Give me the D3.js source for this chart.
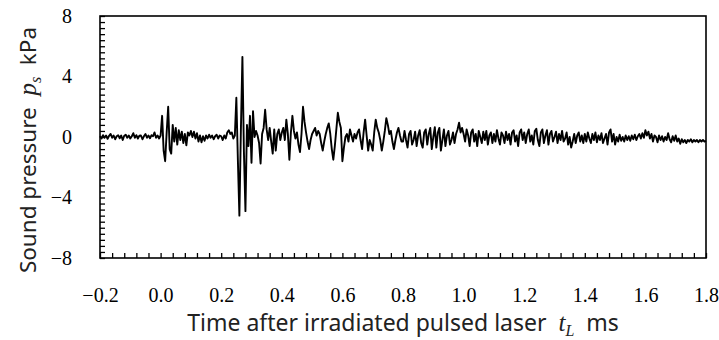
<!DOCTYPE html>
<html>
<head>
<meta charset="utf-8">
<script src="https://cdn.jsdelivr.net/npm/d3@7"></script>
<style>
  body { margin: 0; background: #fff; }
  svg { display: block; }
  .title { white-space: pre; }
</style>
</head>
<body>
<svg width="719" height="340"></svg>
<script>
// sampled signal, start time and step (ms)
const t0 = -0.2;
const dt = 0.005;

// sound pressure ps (kPa), 40 samples per 0.2 ms
const segA = [0.05, -0.1, 0.12, -0.05, 0.1, -0.12, 0.08, 0.2, -0.05, 0.1, -0.15, 0.05, 0.12, -0.08, 0.1, -0.2, 0.08, 0.15, -0.05, 0.1,
  -0.1, 0.05, 0.25, -0.05, 0.12, -0.1, 0.08, 0.1, -0.15, 0.05, 0.2, -0.05, 0.1, -0.08, 0.12, 0.05, 0.3, -0.05, 0.1, -0.1];
const segB = [0.1, 1.4, -0.9, -1.6, 0.3, 2.0, -0.8, -1.1, 0.8, -0.3, 0.6, -0.5, 0.45, -0.2, 0.35, -0.4, 0.2, -0.55, 0.3, 0.1,
  0.4, 0.0, 0.35, -0.1, 0.25, -0.3, 0.1, -0.35, 0.05, -0.25, 0.1, -0.1, 0.15, -0.05, 0.1, -0.15, 0.05, 0.15, -0.1, 0.1];
const segC = [0.05, -0.2, 0.1, -0.1, 0.3, 0.45, 0.2, 0.3, -0.1, 0.1, 2.6, -1.5, -5.2, 0.5, 5.3, -1.0, -4.9, 0.8, -0.6, 1.4,
  -1.7, 1.7, 0.0, 0.4, 0.1, -0.4, -1.75, 0.2, 0.6, 1.8, 0.5, -0.2, 0.6, -0.3, -1.1, 0.5, -0.9, 0.2, 0.5, -0.2];
const segD = [0.3, 0.6, -0.2, 1.15, 0.2, -1.5, 0.3, 1.4, 0.4, -0.1, 0.3, -0.5, -1.0, 0.2, 2.0, 1.0, 0.3, -0.3, -0.8, -0.2,
  0.2, 0.4, 0.6, 0.1, 0.4, 0.2, -0.4, -0.9, -0.3, 0.2, 0.6, 0.9, 0.2, -0.8, -1.5, -0.6, 0.5, 1.6, 1.0, 0.6];
const segE = [-1.6, -0.7, 0.0, 0.2, -0.3, 0.5, 0.1, -0.3, 0.2, -0.1, 0.3, 0.5, -0.2, -0.8, 0.3, 1.15, 0.1, -0.9, -0.2, -0.5,
  -0.9, 0.3, 1.15, 0.6, 0.3, -0.2, -0.9, -0.3, 0.4, 1.25, 0.8, 0.2, 0.4, -0.3, -0.8, -0.2, 0.3, 0.6, 0.1, -0.3];
const segF = [-0.3, 0.4, -0.2, -0.7, 0.2, 0.4, -0.5, -0.2, 0.35, -0.6, 0.1, 0.45, -0.4, -0.7, 0.3, 0.5, -0.5, 0.2, 0.6, -0.8,
  0.0, 0.65, -0.7, 0.3, 0.6, -0.9, -0.2, 0.5, -0.6, 0.1, 0.4, -0.5, -0.2, 0.3, -0.4, 0.2, 0.5, 0.95, 0.3, 0.6];
const segG = [0.2, -0.3, 0.5, 0.1, -0.6, 0.3, 0.5, -0.3, 0.2, -0.6, 0.4, 0.0, -0.4, 0.35, -0.2, 0.4, -0.5, 0.1, 0.3, -0.4,
  0.2, -0.3, 0.45, -0.1, -0.5, 0.3, 0.1, -0.4, 0.35, -0.2, 0.2, -0.5, 0.3, 0.45, -0.3, 0.1, -0.6, 0.3, 0.5, -0.2];
const segH = [0.3, -0.4, 0.2, 0.5, -0.3, 0.1, -0.5, 0.4, 0.55, -0.2, -0.6, 0.3, 0.5, -0.4, 0.1, 0.45, -0.5, 0.2, 0.4, -0.3,
  0.0, 0.35, -0.4, 0.2, -0.2, 0.4, -0.3, -0.1, 0.3, -0.5, 0.0, -0.7, -0.3, 0.2, -0.4, 0.1, 0.3, -0.3, 0.1, -0.4];
const segI = [0.2, -0.3, 0.3, -0.1, -0.4, 0.2, -0.2, 0.3, -0.35, 0.1, -0.2, 0.25, -0.4, -0.1, 0.2, -0.5, 0.3, 0.5, -0.3, 0.2,
  -0.5, 0.0, -0.3, 0.15, -0.25, 0.0, -0.3, 0.1, -0.2, 0.05, -0.25, 0.1, -0.15, 0.15, -0.2, 0.05, 0.2, -0.1, 0.25, -0.05];
const segJ = [0.45, 0.1, 0.35, -0.1, 0.2, -0.3, 0.1, 0.0, -0.35, 0.1, -0.2, 0.05, -0.3, 0.0, -0.2, 0.25, -0.15, -0.35, 0.05, -0.25,
  0.1, -0.3, -0.1, -0.45, -0.15, -0.35, -0.2, -0.4, -0.2, -0.3, -0.15, -0.35, -0.2, -0.3, -0.2, -0.35, -0.2, -0.3, -0.2, -0.3, -0.25];

const xLabels = [-0.2, 0.0, 0.2, 0.4, 0.6, 0.8, 1.0, 1.2, 1.4, 1.6, 1.8];
const yLabels = [-8, -4, 0, 4, 8];

const margens = { left: 100, right: 13, top: 16, bottom: 82 };

const svg = d3.select('svg');
const width = +svg.attr('width');
const height = +svg.attr('height');
const w = width - margens.left - margens.right;
const h = height - margens.top - margens.bottom;

const ps = [].concat(segA, segB, segC, segD, segE, segF, segG, segH, segI, segJ);
const data = ps.map((v, i) => ({ t: t0 + i * dt, p: v }));

// ---- Escalas
const mapX = d3.scaleLinear().domain([-0.2, 1.8]).range([0, w]);
const mapY = d3.scaleLinear().domain([-8, 8]).range([h, 0]);

const g = svg.append('g').attr('transform', `translate(${margens.left}, ${margens.top})`);

// ---- minor ticks (inward)
const xMinor = d3.range(0, 51).map(i => -0.2 + i * 0.04);
const yMinor = d3.range(0, 41).map(i => -8 + i * 0.4);

g.append('g')
    .attr('transform', `translate(0, ${h})`)
    .call(d3.axisBottom(mapX).tickValues(xMinor).tickSize(-5).tickFormat(''))
    .call(a => a.select('.domain').remove())
    .selectAll('line').attr('stroke', '#000').attr('stroke-width', 1.3);

g.append('g')
    .call(d3.axisLeft(mapY).tickValues(yMinor).tickSize(-5).tickFormat(''))
    .call(a => a.select('.domain').remove())
    .selectAll('line').attr('stroke', '#000').attr('stroke-width', 1.3);

// ---- tick labels
g.append('g')
    .attr('transform', `translate(0, ${h})`)
    .call(d3.axisBottom(mapX).tickValues(xLabels).tickSize(0).tickPadding(30).tickFormat(d3.format('.1f')))
    .call(a => a.select('.domain').remove())
    .selectAll('text')
    .attr('fill', '#000')
    .style('font-family', '"Liberation Serif", serif')
    .style('font-size', '20px');

g.append('g')
    .call(d3.axisLeft(mapY).tickValues(yLabels).tickSize(0).tickPadding(28).tickFormat(d3.format('d')))
    .call(a => a.select('.domain').remove())
    .selectAll('text')
    .attr('fill', '#000')
    .style('font-family', '"Liberation Serif", serif')
    .style('font-size', '20px');

// ---- signal
g.append('path')
    .datum(data)
    .attr('fill', 'none')
    .attr('stroke', '#000')
    .attr('stroke-width', 1.9)
    .attr('stroke-linejoin', 'round')
    .attr('d', d3.line()
        .x(d => mapX(d.t))
        .y(d => mapY(d.p)));

// ---- frame
g.append('rect')
    .attr('width', w)
    .attr('height', h)
    .attr('fill', 'none')
    .attr('stroke', '#000')
    .attr('stroke-width', 1.6);

// ---- axis titles
const titleFont = '"Noto Sans", sans-serif';
const italic = '"Liberation Serif", serif';

const xt = svg.append('text')
    .attr('class', 'title')
    .attr('x', margens.left + w / 2)
    .attr('y', 331)
    .attr('text-anchor', 'middle')
    .style('font-family', titleFont)
    .style('font-size', '23px')
    .attr('fill', '#222');
xt.append('tspan').text('Time after irradiated pulsed laser  ');
xt.append('tspan').text('t').style('font-family', italic).style('font-style', 'italic').style('font-size', '25px');
xt.append('tspan').text('L').attr('dy', 5).style('font-family', italic).style('font-style', 'italic').style('font-size', '16px');
xt.append('tspan').text('  ms').attr('dy', -5);

const yt = svg.append('text')
    .attr('class', 'title')
    .attr('transform', 'translate(36, 150) rotate(-90)')
    .attr('text-anchor', 'middle')
    .style('font-family', titleFont)
    .style('font-size', '22.5px')
    .attr('fill', '#222');
yt.append('tspan').text('Sound pressure  ');
yt.append('tspan').text('p').style('font-family', italic).style('font-style', 'italic').style('font-size', '25px');
yt.append('tspan').text('s').attr('dy', 5).style('font-family', italic).style('font-style', 'italic').style('font-size', '16px');
yt.append('tspan').text('  kPa').attr('dy', -5);
</script>
</body>
</html>
